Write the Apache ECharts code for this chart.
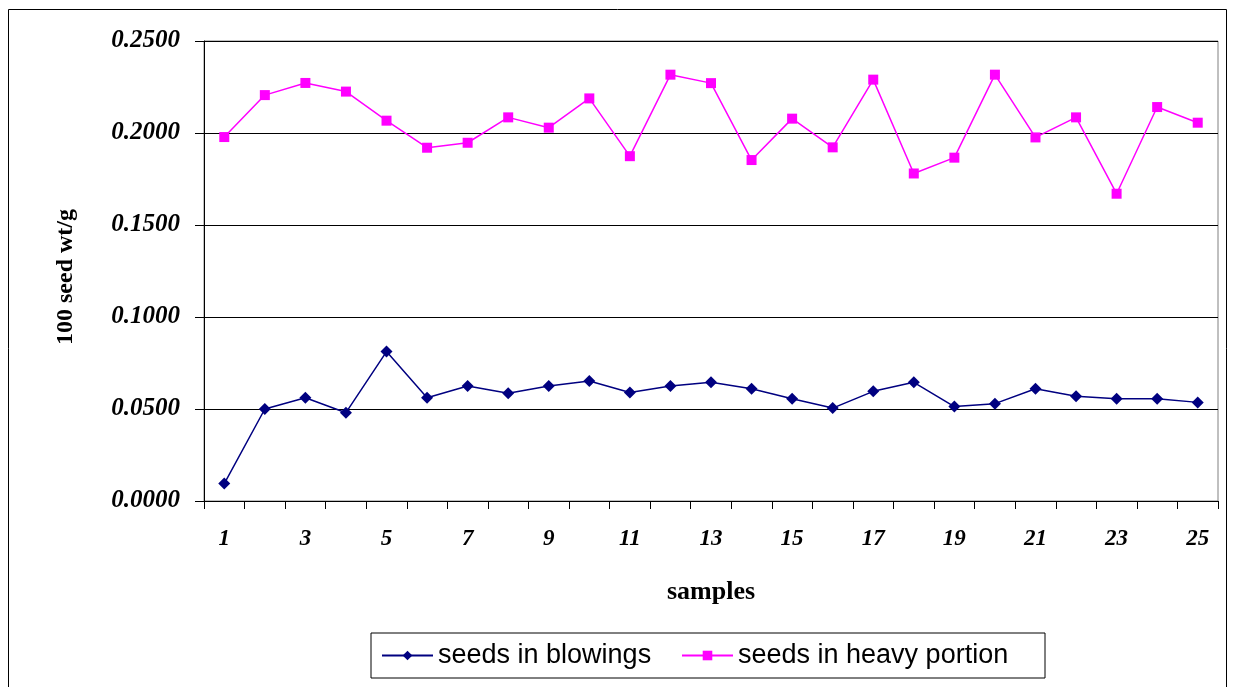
<!DOCTYPE html>
<html>
<head>
<meta charset="utf-8">
<script src="https://cdn.jsdelivr.net/npm/echarts@6/dist/echarts.min.js"></script>
<style>
  html, body { margin: 0; padding: 0; background: #fff; }
  #chart { width: 1235px; height: 687px; }
</style>
</head>
<body>
<div id="chart"></div>
<script>
// Sample numbers along the x axis
const categories = ['1','2','3','4','5','6','7','8','9','10','11','12','13',
  '14','15','16','17','18','19','20','21','22','23','24','25'];

// 100 seed weight (g) of seeds found in the blowings
const blowings = [0.0095, 0.0500, 0.0561, 0.0480, 0.0812, 0.0561, 0.0625, 0.0585,
  0.0625, 0.0652, 0.0590, 0.0625, 0.0645, 0.0610, 0.0556, 0.0505, 0.0596, 0.0645,
  0.0513, 0.0529, 0.0610, 0.0569, 0.0556, 0.0556, 0.0536];

// 100 seed weight (g) of seeds in the heavy portion
const heavy = [0.1978, 0.2206, 0.2272, 0.2225, 0.2067, 0.1920, 0.1947, 0.2085,
  0.2029, 0.2188, 0.1874, 0.2317, 0.2271, 0.1853, 0.2078, 0.1922, 0.2290, 0.1780,
  0.1866, 0.2317, 0.1976, 0.2085, 0.1670, 0.2141, 0.2056];

const seriesNames = ['seeds in blowings', 'seeds in heavy portion'];

// Value axis range and step
const yMin = 0, yMax = 0.25, yStep = 0.05;

const serif = '"Liberation Serif", "Times New Roman", serif';
const sans = '"Liberation Sans", Arial, sans-serif';

const chart = echarts.init(document.getElementById('chart'), null, { renderer: 'canvas' });

chart.setOption({
  animation: false,
  backgroundColor: '#fff',
  graphic: [{
    type: 'rect',
    z: -1,
    shape: { x: 8.5, y: 9.5, width: 1218, height: 700 },
    style: { fill: 'none', stroke: '#000', lineWidth: 1 }
  }],
  grid: {
    left: 204, right: 17, top: 41, bottom: 186,
    show: true, borderColor: '#808080', borderWidth: 1, backgroundColor: 'transparent'
  },
  legend: {
    left: 371, top: 633,
    padding: [8, 10],
    itemGap: 15,
    itemWidth: 51,
    itemHeight: 12,
    borderColor: '#000', borderWidth: 1,
    backgroundColor: '#fff',
    textStyle: { fontFamily: sans, fontSize: 27, color: '#000', lineHeight: 29 },
    data: [
      { name: seriesNames[0], textStyle: { width: 228 } },
      { name: seriesNames[1], textStyle: { width: 297 } }
    ]
  },
  xAxis: {
    type: 'category',
    data: categories,
    boundaryGap: true,
    name: 'samples',
    nameLocation: 'middle',
    nameGap: 78,
    nameTextStyle: { fontFamily: serif, fontWeight: 'bold', fontSize: 26, color: '#000' },
    axisLine: { lineStyle: { color: '#000', width: 1 } },
    axisTick: { show: true, interval: 0, length: 8, inside: false, lineStyle: { color: '#000' } },
    axisLabel: {
      interval: 1, margin: 27,
      fontFamily: serif, fontStyle: 'italic', fontWeight: 'bold', fontSize: 23, color: '#000'
    },
    splitLine: { show: false }
  },
  yAxis: {
    type: 'value',
    min: yMin, max: yMax, interval: yStep,
    name: '100 seed wt/g',
    nameLocation: 'middle',
    nameGap: 126,
    nameTextStyle: {
      fontFamily: serif, fontWeight: 'bold', fontSize: 24, color: '#000',
      padding: [0, 12, 0, 0]
    },
    axisLine: { show: true, lineStyle: { color: '#000', width: 1 } },
    axisTick: { show: true, length: 9, lineStyle: { color: '#000' } },
    axisLabel: {
      margin: 24,
      formatter: v => v.toFixed(4),
      fontFamily: serif, fontStyle: 'italic', fontWeight: 'bold', fontSize: 25, color: '#000'
    },
    splitLine: { show: true, lineStyle: { color: '#000', width: 1 } }
  },
  series: [
    {
      name: seriesNames[0],
      type: 'line',
      data: blowings,
      symbol: 'diamond',
      symbolSize: 12,
      lineStyle: { color: '#000080', width: 1.5 },
      itemStyle: { color: '#000080' },
      z: 3
    },
    {
      name: seriesNames[1],
      type: 'line',
      data: heavy,
      symbol: 'rect',
      symbolSize: 10,
      lineStyle: { color: '#FF00FF', width: 1.5 },
      itemStyle: { color: '#FF00FF' },
      z: 3
    }
  ]
});
</script>
</body>
</html>
